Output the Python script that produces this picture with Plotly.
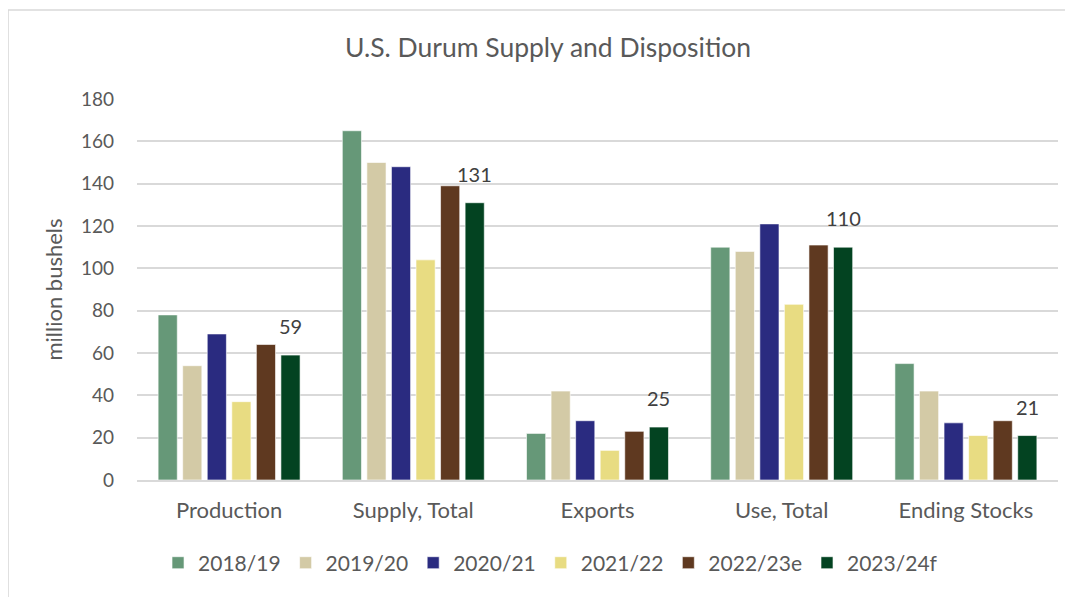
import plotly.graph_objects as go

categories = ["Production", "Supply, Total", "Exports", "Use, Total", "Ending Stocks"]
series_names = ["2018/19", "2019/20", "2020/21", "2021/22", "2022/23e", "2023/24f"]
v_2018_19 = [78, 165, 22, 110, 55]
v_2019_20 = [54, 150, 42, 108, 42]
v_2020_21 = [69, 148, 28, 121, 27]
v_2021_22 = [37, 104, 14, 83, 21]
v_2022_23e = [64, 139, 23, 111, 28]
v_2023_24f = [59, 131, 25, 110, 21]
series_values = [v_2018_19, v_2019_20, v_2020_21, v_2021_22, v_2022_23e, v_2023_24f]
colors = ["#669878", "#d3caa6", "#2a2b80", "#e8dc82", "#5f3920", "#034321"]
y_ticks = [0, 20, 40, 60, 80, 100, 120, 140, 160, 180]

FONT = "Lato"
GRAY = "#595959"

# page body has an 8px margin; compensate in figure size / margins
W, H = 1065, 589
ML, MR, MT, MB = 129, 15, 91, 117

fig = go.Figure()
for name, vals, col in zip(series_names, series_values, colors):
    fig.add_trace(go.Bar(
        name=name, x=categories, y=vals,
        marker=dict(color=col, line=dict(color="white", width=0.6)),
    ))

bargap = 0.2
plot_w = W - ML - MR
cat_px = plot_w / len(categories)
slot = (1 - bargap) / len(series_names)
last_offset = ((1 - bargap) / 2 - slot / 2) * cat_px

annotations = []
for c, v in zip(categories, v_2023_24f):
    annotations.append(dict(
        x=c, y=v, xref="x", yref="y", text=str(v), showarrow=False,
        xshift=last_offset, yshift=15, yanchor="bottom",
        font=dict(family=FONT, size=20, color="#404040"),
    ))

fig.update_layout(
    width=W, height=H,
    margin=dict(l=ML, r=MR, t=MT, b=MB),
    paper_bgcolor="white", plot_bgcolor="white",
    barmode="group", bargap=bargap, bargroupgap=0.22,
    title=dict(text="U.S. Durum Supply and Disposition", x=540 / W, xref="container",
               xanchor="center", y=1 - 40 / H, yanchor="middle",
               font=dict(family=FONT, size=26.5, color=GRAY)),
    font=dict(family=FONT, color=GRAY),
    xaxis=dict(tickfont=dict(size=22, color=GRAY), showgrid=False,
               showline=True, linecolor="#d9d9d9", linewidth=1.5, ticks="",
               ticklabelstandoff=10),
    yaxis=dict(range=[0, 180], tickvals=y_ticks, tickfont=dict(size=19, color=GRAY),
               showgrid=True, gridcolor="#d9d9d9", gridwidth=1.5, zeroline=False,
               title=dict(text="million bushels", font=dict(size=22, color=GRAY), standoff=12),
               ticks="", ticklabelstandoff=22),
    legend=dict(orientation="h", x=0.449, xanchor="center", y=-0.218, yanchor="middle",
                font=dict(size=21, color=GRAY), itemwidth=30, traceorder="normal"),
    annotations=annotations,
    showlegend=True,
)
fig.add_shape(type="rect", xref="paper", yref="paper",
              x0=-0.14, x1=1.011, y0=-0.4, y1=1.2336,
              line=dict(color="#d9d9d9", width=1.5), layer="below")

fig.write_html("out.html")
